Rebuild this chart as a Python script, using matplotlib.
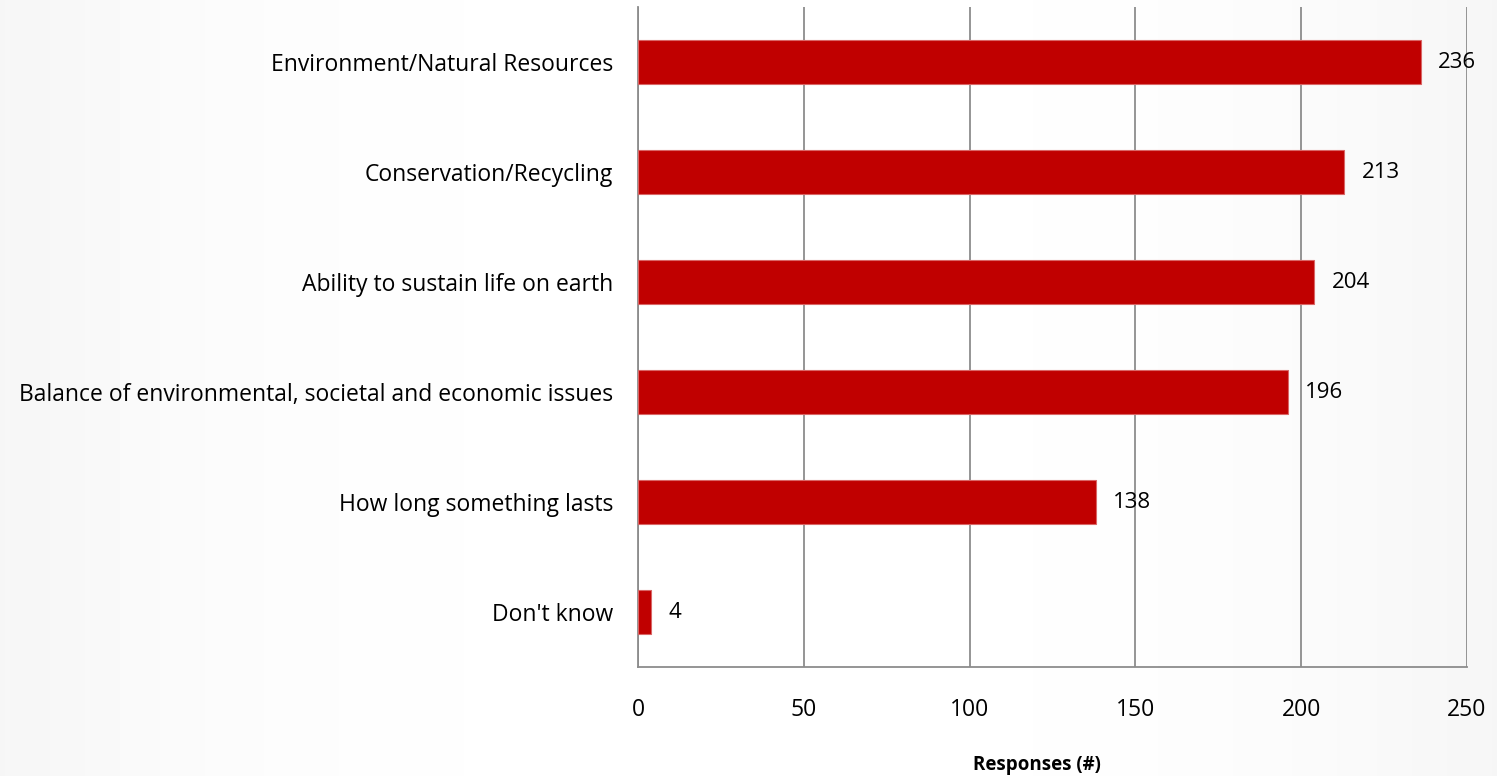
import matplotlib.pyplot as plt
import numpy as np

categories = [
    "Environment/Natural Resources",
    "Conservation/Recycling",
    "Ability to sustain life on earth",
    "Balance of environmental, societal and economic issues",
    "How long something lasts",
    "Don't know",
]
responses = [236, 213, 204, 196, 138, 4]
xticks = [0, 50, 100, 150, 200, 250]

plt.rcParams["font.family"] = ["Open Sans", "DejaVu Sans"]

fig = plt.figure(figsize=(14.97, 7.76), dpi=100)
fig.patch.set_facecolor("white")

# faint grey shading towards the edges, like the slide background
bg = fig.add_axes([0, 0, 1, 1], zorder=-10)
xx = np.linspace(-1, 1, 300)
shade = np.tile(np.abs(xx) ** 3, (10, 1))
bg.imshow(shade, cmap="Greys", vmin=0, vmax=14, aspect="auto", extent=[0, 1, 0, 1])
bg.axis("off")

ax = fig.add_axes([638 / 1497, 1 - 667 / 776, 829 / 1497, 660 / 776])
ax.patch.set_alpha(0)

y = np.arange(len(categories))
ax.barh(y, responses, height=0.4, color="#C00000", edgecolor="#D96666", linewidth=0.8, zorder=3)
for yi, v in zip(y, responses):
    ax.text(v + 5.2, yi, str(v), va="center", ha="left", fontsize=16, color="black", zorder=4)

ax.set_ylim(len(categories) - 0.5, -0.5)
ax.set_xlim(0, 250)
ax.set_yticks(y)
ax.set_yticklabels(categories, fontsize=16.5)
ax.set_xticks(xticks)
ax.set_xticklabels([str(t) for t in xticks], fontsize=16.5)
ax.tick_params(axis="y", length=0, pad=18)
ax.tick_params(axis="x", length=0, pad=22)
ax.grid(axis="x", color="#8C8C8C", linewidth=1.3, zorder=0)

for s in ["top", "right"]:
    ax.spines[s].set_visible(False)
for s in ["left", "bottom"]:
    ax.spines[s].set_color("#8C8C8C")
    ax.spines[s].set_linewidth(1.3)

ax.set_xlabel("Responses (#)", fontsize=13.5, fontweight="bold", labelpad=24)
ax.xaxis.label.set_x(0.481)

fig.savefig("out.png", dpi=100)
